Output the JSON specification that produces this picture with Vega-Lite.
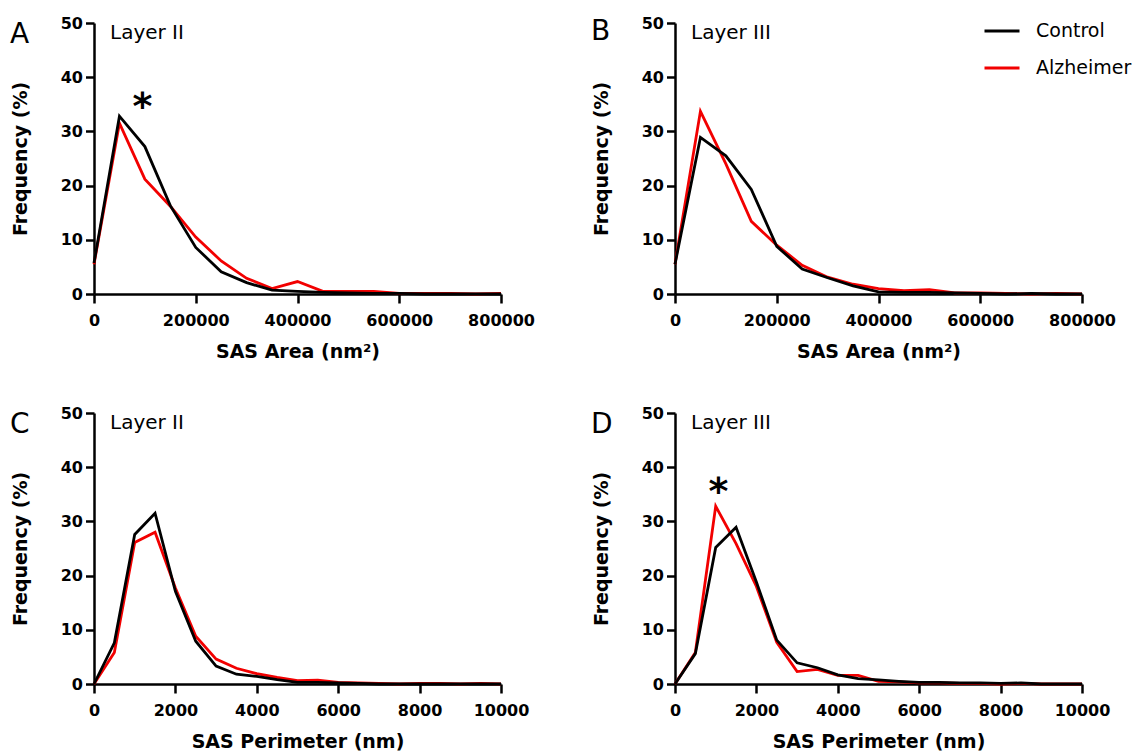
{
  "$schema": "https://vega.github.io/schema/vega-lite/v6.json",
  "background": "white",
  "padding": {"left": 10, "top": 12, "right": 5, "bottom": 5},
  "config": {
    "view": {"stroke": null},
    "font": "DejaVu Sans",
    "axis": {
      "grid": false,
      "domainColor": "black",
      "domainWidth": 2.5,
      "tickColor": "black",
      "tickWidth": 2.5,
      "labelFont": "DejaVu Sans",
      "labelFontWeight": "bold",
      "labelFontSize": 16,
      "labelColor": "black",
      "titleFont": "DejaVu Sans",
      "titleFontWeight": "bold",
      "titleFontSize": 19,
      "titleColor": "black"
    },
    "axisX": {"tickSize": 9, "labelPadding": 9, "titlePadding": 14, "labelFlush": false},
    "axisY": {"tickSize": 8.5, "labelPadding": 3, "titlePadding": 30},
    "title": {"font": "DejaVu Sans", "fontSize": 28, "fontWeight": "normal", "color": "black", "anchor": "start", "frame": "group", "orient": "top", "offset": 0, "baseline": "top", "dx": -84, "dy": 38}
  },
  "datasets": {
    "d": [
      {"p": "A", "g": "Alzheimer", "x": 0, "y": 5.5},
      {"p": "A", "g": "Alzheimer", "x": 50000, "y": 31.5},
      {"p": "A", "g": "Alzheimer", "x": 100000, "y": 21.2},
      {"p": "A", "g": "Alzheimer", "x": 150000, "y": 16.2},
      {"p": "A", "g": "Alzheimer", "x": 200000, "y": 10.5},
      {"p": "A", "g": "Alzheimer", "x": 250000, "y": 6.1},
      {"p": "A", "g": "Alzheimer", "x": 300000, "y": 2.9},
      {"p": "A", "g": "Alzheimer", "x": 350000, "y": 1.0},
      {"p": "A", "g": "Alzheimer", "x": 400000, "y": 2.3},
      {"p": "A", "g": "Alzheimer", "x": 450000, "y": 0.5},
      {"p": "A", "g": "Alzheimer", "x": 500000, "y": 0.5},
      {"p": "A", "g": "Alzheimer", "x": 550000, "y": 0.5},
      {"p": "A", "g": "Alzheimer", "x": 600000, "y": 0.1},
      {"p": "A", "g": "Alzheimer", "x": 650000, "y": 0.1},
      {"p": "A", "g": "Alzheimer", "x": 700000, "y": 0.1},
      {"p": "A", "g": "Alzheimer", "x": 750000, "y": 0.0},
      {"p": "A", "g": "Alzheimer", "x": 800000, "y": 0.1},
      {"p": "A", "g": "Control", "x": 0, "y": 5.7},
      {"p": "A", "g": "Control", "x": 50000, "y": 32.8},
      {"p": "A", "g": "Control", "x": 100000, "y": 27.2},
      {"p": "A", "g": "Control", "x": 150000, "y": 16.3},
      {"p": "A", "g": "Control", "x": 200000, "y": 8.6},
      {"p": "A", "g": "Control", "x": 250000, "y": 4.1},
      {"p": "A", "g": "Control", "x": 300000, "y": 2.1},
      {"p": "A", "g": "Control", "x": 350000, "y": 0.7},
      {"p": "A", "g": "Control", "x": 400000, "y": 0.5},
      {"p": "A", "g": "Control", "x": 450000, "y": 0.3},
      {"p": "A", "g": "Control", "x": 500000, "y": 0.2},
      {"p": "A", "g": "Control", "x": 550000, "y": 0.1},
      {"p": "A", "g": "Control", "x": 600000, "y": 0.1},
      {"p": "A", "g": "Control", "x": 650000, "y": 0.0},
      {"p": "A", "g": "Control", "x": 700000, "y": 0.0},
      {"p": "A", "g": "Control", "x": 750000, "y": 0.0},
      {"p": "A", "g": "Control", "x": 800000, "y": 0.0},
      {"p": "B", "g": "Alzheimer", "x": 0, "y": 5.5},
      {"p": "B", "g": "Alzheimer", "x": 50000, "y": 33.7},
      {"p": "B", "g": "Alzheimer", "x": 100000, "y": 24.0},
      {"p": "B", "g": "Alzheimer", "x": 150000, "y": 13.4},
      {"p": "B", "g": "Alzheimer", "x": 200000, "y": 9.0},
      {"p": "B", "g": "Alzheimer", "x": 250000, "y": 5.3},
      {"p": "B", "g": "Alzheimer", "x": 300000, "y": 3.1},
      {"p": "B", "g": "Alzheimer", "x": 350000, "y": 1.8},
      {"p": "B", "g": "Alzheimer", "x": 400000, "y": 1.0},
      {"p": "B", "g": "Alzheimer", "x": 450000, "y": 0.6},
      {"p": "B", "g": "Alzheimer", "x": 500000, "y": 0.8},
      {"p": "B", "g": "Alzheimer", "x": 550000, "y": 0.2},
      {"p": "B", "g": "Alzheimer", "x": 600000, "y": 0.2},
      {"p": "B", "g": "Alzheimer", "x": 650000, "y": 0.1},
      {"p": "B", "g": "Alzheimer", "x": 700000, "y": 0.0},
      {"p": "B", "g": "Alzheimer", "x": 750000, "y": 0.1},
      {"p": "B", "g": "Alzheimer", "x": 800000, "y": 0.0},
      {"p": "B", "g": "Control", "x": 0, "y": 5.5},
      {"p": "B", "g": "Control", "x": 50000, "y": 28.9},
      {"p": "B", "g": "Control", "x": 100000, "y": 25.5},
      {"p": "B", "g": "Control", "x": 150000, "y": 19.3},
      {"p": "B", "g": "Control", "x": 200000, "y": 8.8},
      {"p": "B", "g": "Control", "x": 250000, "y": 4.6},
      {"p": "B", "g": "Control", "x": 300000, "y": 3.0},
      {"p": "B", "g": "Control", "x": 350000, "y": 1.5},
      {"p": "B", "g": "Control", "x": 400000, "y": 0.4},
      {"p": "B", "g": "Control", "x": 450000, "y": 0.3},
      {"p": "B", "g": "Control", "x": 500000, "y": 0.3},
      {"p": "B", "g": "Control", "x": 550000, "y": 0.2},
      {"p": "B", "g": "Control", "x": 600000, "y": 0.1},
      {"p": "B", "g": "Control", "x": 650000, "y": 0.0},
      {"p": "B", "g": "Control", "x": 700000, "y": 0.1},
      {"p": "B", "g": "Control", "x": 750000, "y": 0.0},
      {"p": "B", "g": "Control", "x": 800000, "y": 0.0},
      {"p": "C", "g": "Alzheimer", "x": 0, "y": 0.0},
      {"p": "C", "g": "Alzheimer", "x": 500, "y": 5.8},
      {"p": "C", "g": "Alzheimer", "x": 1000, "y": 26.1},
      {"p": "C", "g": "Alzheimer", "x": 1500, "y": 28.0},
      {"p": "C", "g": "Alzheimer", "x": 2000, "y": 17.7},
      {"p": "C", "g": "Alzheimer", "x": 2500, "y": 8.8},
      {"p": "C", "g": "Alzheimer", "x": 3000, "y": 4.6},
      {"p": "C", "g": "Alzheimer", "x": 3500, "y": 2.9},
      {"p": "C", "g": "Alzheimer", "x": 4000, "y": 1.9},
      {"p": "C", "g": "Alzheimer", "x": 4500, "y": 1.2},
      {"p": "C", "g": "Alzheimer", "x": 5000, "y": 0.6},
      {"p": "C", "g": "Alzheimer", "x": 5500, "y": 0.7},
      {"p": "C", "g": "Alzheimer", "x": 6000, "y": 0.3},
      {"p": "C", "g": "Alzheimer", "x": 6500, "y": 0.2},
      {"p": "C", "g": "Alzheimer", "x": 7000, "y": 0.1},
      {"p": "C", "g": "Alzheimer", "x": 7500, "y": 0.0},
      {"p": "C", "g": "Alzheimer", "x": 8000, "y": 0.1},
      {"p": "C", "g": "Alzheimer", "x": 8500, "y": 0.1},
      {"p": "C", "g": "Alzheimer", "x": 9000, "y": 0.0},
      {"p": "C", "g": "Alzheimer", "x": 9500, "y": 0.1},
      {"p": "C", "g": "Alzheimer", "x": 10000, "y": 0.0},
      {"p": "C", "g": "Control", "x": 0, "y": 0.0},
      {"p": "C", "g": "Control", "x": 500, "y": 7.6},
      {"p": "C", "g": "Control", "x": 1000, "y": 27.6},
      {"p": "C", "g": "Control", "x": 1500, "y": 31.5},
      {"p": "C", "g": "Control", "x": 2000, "y": 17.1},
      {"p": "C", "g": "Control", "x": 2500, "y": 7.9},
      {"p": "C", "g": "Control", "x": 3000, "y": 3.3},
      {"p": "C", "g": "Control", "x": 3500, "y": 1.8},
      {"p": "C", "g": "Control", "x": 4000, "y": 1.4},
      {"p": "C", "g": "Control", "x": 4500, "y": 0.8},
      {"p": "C", "g": "Control", "x": 5000, "y": 0.3},
      {"p": "C", "g": "Control", "x": 5500, "y": 0.3},
      {"p": "C", "g": "Control", "x": 6000, "y": 0.2},
      {"p": "C", "g": "Control", "x": 6500, "y": 0.1},
      {"p": "C", "g": "Control", "x": 7000, "y": 0.0},
      {"p": "C", "g": "Control", "x": 7500, "y": 0.0},
      {"p": "C", "g": "Control", "x": 8000, "y": 0.0},
      {"p": "C", "g": "Control", "x": 8500, "y": 0.0},
      {"p": "C", "g": "Control", "x": 9000, "y": 0.0},
      {"p": "C", "g": "Control", "x": 9500, "y": 0.0},
      {"p": "C", "g": "Control", "x": 10000, "y": 0.0},
      {"p": "D", "g": "Alzheimer", "x": 0, "y": 0.0},
      {"p": "D", "g": "Alzheimer", "x": 500, "y": 5.8},
      {"p": "D", "g": "Alzheimer", "x": 1000, "y": 32.8},
      {"p": "D", "g": "Alzheimer", "x": 1500, "y": 25.9},
      {"p": "D", "g": "Alzheimer", "x": 2000, "y": 18.0},
      {"p": "D", "g": "Alzheimer", "x": 2500, "y": 7.7},
      {"p": "D", "g": "Alzheimer", "x": 3000, "y": 2.3},
      {"p": "D", "g": "Alzheimer", "x": 3500, "y": 2.7},
      {"p": "D", "g": "Alzheimer", "x": 4000, "y": 1.6},
      {"p": "D", "g": "Alzheimer", "x": 4500, "y": 1.6},
      {"p": "D", "g": "Alzheimer", "x": 5000, "y": 0.5},
      {"p": "D", "g": "Alzheimer", "x": 5500, "y": 0.4},
      {"p": "D", "g": "Alzheimer", "x": 6000, "y": 0.2},
      {"p": "D", "g": "Alzheimer", "x": 6500, "y": 0.2},
      {"p": "D", "g": "Alzheimer", "x": 7000, "y": 0.1},
      {"p": "D", "g": "Alzheimer", "x": 7500, "y": 0.1},
      {"p": "D", "g": "Alzheimer", "x": 8000, "y": 0.0},
      {"p": "D", "g": "Alzheimer", "x": 8500, "y": 0.1},
      {"p": "D", "g": "Alzheimer", "x": 9000, "y": 0.0},
      {"p": "D", "g": "Alzheimer", "x": 9500, "y": 0.0},
      {"p": "D", "g": "Alzheimer", "x": 10000, "y": 0.0},
      {"p": "D", "g": "Control", "x": 0, "y": 0.0},
      {"p": "D", "g": "Control", "x": 500, "y": 5.6},
      {"p": "D", "g": "Control", "x": 1000, "y": 25.2},
      {"p": "D", "g": "Control", "x": 1500, "y": 28.9},
      {"p": "D", "g": "Control", "x": 2000, "y": 18.8},
      {"p": "D", "g": "Control", "x": 2500, "y": 8.1},
      {"p": "D", "g": "Control", "x": 3000, "y": 3.9},
      {"p": "D", "g": "Control", "x": 3500, "y": 3.0},
      {"p": "D", "g": "Control", "x": 4000, "y": 1.7},
      {"p": "D", "g": "Control", "x": 4500, "y": 1.0},
      {"p": "D", "g": "Control", "x": 5000, "y": 0.75},
      {"p": "D", "g": "Control", "x": 5500, "y": 0.5},
      {"p": "D", "g": "Control", "x": 6000, "y": 0.3},
      {"p": "D", "g": "Control", "x": 6500, "y": 0.3},
      {"p": "D", "g": "Control", "x": 7000, "y": 0.2},
      {"p": "D", "g": "Control", "x": 7500, "y": 0.2},
      {"p": "D", "g": "Control", "x": 8000, "y": 0.1},
      {"p": "D", "g": "Control", "x": 8500, "y": 0.2},
      {"p": "D", "g": "Control", "x": 9000, "y": 0.0},
      {"p": "D", "g": "Control", "x": 9500, "y": 0.0},
      {"p": "D", "g": "Control", "x": 10000, "y": 0.0}
    ]
  },
  "columns": 2,
  "spacing": {"row": 119, "column": 174},
  "bounds": "flush",
  "resolve": {"scale": {"x": "independent", "y": "independent", "color": "independent"}, "legend": {"color": "independent"}},
  "concat": [
    {
      "width": 407, "height": 271,
      "title": {"text": "A"},
      "layer": [
        {
          "data": {"name": "d"},
          "transform": [{"filter": "datum.p == 'A'"}],
          "mark": {"type": "line", "strokeWidth": 2.8},
          "encoding": {
            "x": {"field": "x", "type": "quantitative", "scale": {"domain": [0, 800000]}, "axis": {"title": "SAS Area (nm²)", "values": [0, 200000, 400000, 600000, 800000], "format": "d"}},
            "y": {"field": "y", "type": "quantitative", "scale": {"domain": [0, 50]}, "axis": {"title": "Frequency (%)", "values": [0, 10, 20, 30, 40, 50]}},
            "color": {"field": "g", "type": "nominal", "scale": {"domain": ["Control", "Alzheimer"], "range": ["#000000", "#f20000"]}, "legend": null}
          }
        },
        {
          "data": {"values": [{"t": "Layer II"}]},
          "mark": {"type": "text", "align": "left", "baseline": "alphabetic", "dx": 16, "dy": 16, "fontSize": 20, "font": "DejaVu Sans", "color": "black"},
          "encoding": {"x": {"datum": 0}, "y": {"datum": 50}, "text": {"field": "t"}}
        },
        {
          "data": {"values": [{"t": "*"}]},
          "mark": {"type": "text", "align": "center", "baseline": "alphabetic", "dy": 21, "fontSize": 38, "fontWeight": "bold", "font": "DejaVu Sans", "color": "black"},
          "encoding": {"x": {"datum": 95000}, "y": {"datum": 36.2}, "text": {"field": "t"}}
        }
      ]
    },
    {
      "width": 407, "height": 271,
      "title": {"text": "B"},
      "layer": [
        {
          "data": {"name": "d"},
          "transform": [{"filter": "datum.p == 'B'"}],
          "mark": {"type": "line", "strokeWidth": 2.8},
          "encoding": {
            "x": {"field": "x", "type": "quantitative", "scale": {"domain": [0, 800000]}, "axis": {"title": "SAS Area (nm²)", "values": [0, 200000, 400000, 600000, 800000], "format": "d"}},
            "y": {"field": "y", "type": "quantitative", "scale": {"domain": [0, 50]}, "axis": {"title": "Frequency (%)", "values": [0, 10, 20, 30, 40, 50]}},
            "color": {"field": "g", "type": "nominal", "scale": {"domain": ["Control", "Alzheimer"], "range": ["#000000", "#f20000"]},
              "legend": {"orient": "none", "legendX": 308, "legendY": -11, "title": null, "padding": 0, "symbolType": "stroke", "symbolSize": 1225, "symbolStrokeWidth": 3, "labelFont": "DejaVu Sans", "labelFontSize": 19, "labelColor": "black", "labelOffset": 15, "rowPadding": 8}}
          }
        },
        {
          "data": {"values": [{"t": "Layer III"}]},
          "mark": {"type": "text", "align": "left", "baseline": "alphabetic", "dx": 16, "dy": 16, "fontSize": 20, "font": "DejaVu Sans", "color": "black"},
          "encoding": {"x": {"datum": 0}, "y": {"datum": 50}, "text": {"field": "t"}}
        }
      ]
    },
    {
      "width": 407, "height": 271,
      "title": {"text": "C"},
      "layer": [
        {
          "data": {"name": "d"},
          "transform": [{"filter": "datum.p == 'C'"}],
          "mark": {"type": "line", "strokeWidth": 2.8},
          "encoding": {
            "x": {"field": "x", "type": "quantitative", "scale": {"domain": [0, 10000]}, "axis": {"title": "SAS Perimeter (nm)", "values": [0, 2000, 4000, 6000, 8000, 10000], "format": "d"}},
            "y": {"field": "y", "type": "quantitative", "scale": {"domain": [0, 50]}, "axis": {"title": "Frequency (%)", "values": [0, 10, 20, 30, 40, 50]}},
            "color": {"field": "g", "type": "nominal", "scale": {"domain": ["Control", "Alzheimer"], "range": ["#000000", "#f20000"]}, "legend": null}
          }
        },
        {
          "data": {"values": [{"t": "Layer II"}]},
          "mark": {"type": "text", "align": "left", "baseline": "alphabetic", "dx": 16, "dy": 16, "fontSize": 20, "font": "DejaVu Sans", "color": "black"},
          "encoding": {"x": {"datum": 0}, "y": {"datum": 50}, "text": {"field": "t"}}
        }
      ]
    },
    {
      "width": 407, "height": 271,
      "title": {"text": "D"},
      "layer": [
        {
          "data": {"name": "d"},
          "transform": [{"filter": "datum.p == 'D'"}],
          "mark": {"type": "line", "strokeWidth": 2.8},
          "encoding": {
            "x": {"field": "x", "type": "quantitative", "scale": {"domain": [0, 10000]}, "axis": {"title": "SAS Perimeter (nm)", "values": [0, 2000, 4000, 6000, 8000, 10000], "format": "d"}},
            "y": {"field": "y", "type": "quantitative", "scale": {"domain": [0, 50]}, "axis": {"title": "Frequency (%)", "values": [0, 10, 20, 30, 40, 50]}},
            "color": {"field": "g", "type": "nominal", "scale": {"domain": ["Control", "Alzheimer"], "range": ["#000000", "#f20000"]}, "legend": null}
          }
        },
        {
          "data": {"values": [{"t": "Layer III"}]},
          "mark": {"type": "text", "align": "left", "baseline": "alphabetic", "dx": 16, "dy": 16, "fontSize": 20, "font": "DejaVu Sans", "color": "black"},
          "encoding": {"x": {"datum": 0}, "y": {"datum": 50}, "text": {"field": "t"}}
        },
        {
          "data": {"values": [{"t": "*"}]},
          "mark": {"type": "text", "align": "center", "baseline": "alphabetic", "dy": 21, "fontSize": 38, "fontWeight": "bold", "font": "DejaVu Sans", "color": "black"},
          "encoding": {"x": {"datum": 1070}, "y": {"datum": 37.0}, "text": {"field": "t"}}
        }
      ]
    }
  ]
}
